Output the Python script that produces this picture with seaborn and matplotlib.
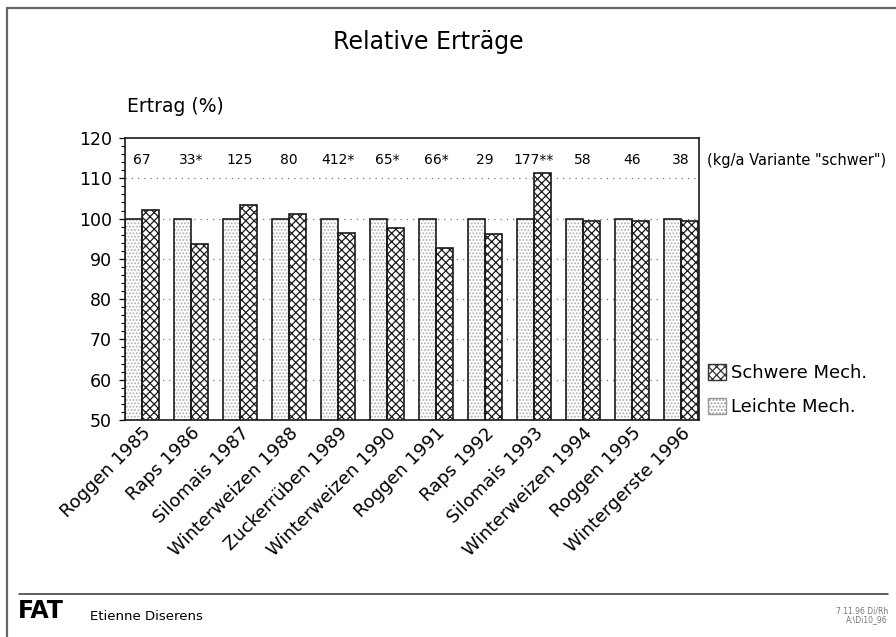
import matplotlib
matplotlib.use("Agg")
import matplotlib.pyplot as plt
from matplotlib.lines import Line2D
from matplotlib.patches import Patch, Rectangle
from matplotlib.ticker import MultipleLocator
import pandas as pd
import seaborn as sns

# Relative yields per crop and year (light mechanisation = 100 %)
kulturen = ["Roggen 1985", "Raps 1986", "Silomais 1987", "Winterweizen 1988",
            "Zuckerrüben 1989", "Winterweizen 1990", "Roggen 1991", "Raps 1992",
            "Silomais 1993", "Winterweizen 1994", "Roggen 1995", "Wintergerste 1996"]
leichte = [100, 100, 100, 100, 100, 100, 100, 100, 100, 100, 100, 100]
schwere = [102.2, 93.6, 103.3, 101.2, 96.4, 97.7, 92.6, 96.2, 111.2, 99.3, 99.5, 99.3]
# absolute yield of the heavy variant (kg/a)
kg_schwer = ["67", "33*", "125", "80", "412*", "65*", "66*", "29", "177**", "58", "46", "38"]
y_ticks = [50, 60, 70, 80, 90, 100, 110, 120]

df = pd.DataFrame({
    "Kultur": kulturen * 2,
    "Ertrag": leichte + schwere,
    "Variante": ["Leichte Mech."] * len(kulturen) + ["Schwere Mech."] * len(kulturen),
})

sns.set_style("ticks")
plt.rcParams["font.family"] = ["DejaVu Sans"]
plt.rcParams["text.color"] = "black"
plt.rcParams["hatch.linewidth"] = 0.9

W, H = 896, 637
fig = plt.figure(figsize=(W / 100, H / 100), dpi=100)
fig.patch.set_facecolor("white")
ax = fig.add_axes([125 / W, 1 - 420 / H, (699 - 125) / W, (420 - 138) / H])

sns.barplot(data=df, x="Kultur", y="Ertrag", hue="Variante",
            hue_order=["Leichte Mech.", "Schwere Mech."],
            palette=["white", "white"], saturation=1, width=0.7,
            legend=False, ax=ax, errorbar=None)

# light variant: fine grey dots with a dark outline
for p in ax.containers[0]:
    p.set_hatch(".....")
    p.set_edgecolor("#b0b0b0")
    p.set_linewidth(0)
    ax.add_patch(Rectangle((p.get_x(), p.get_y()), p.get_width(), p.get_height(),
                           fill=False, edgecolor="#1a1a1a", linewidth=1.2, zorder=3))
# heavy variant: dense dark cross-hatching
for p in ax.containers[1]:
    p.set_hatch("xxxx")
    p.set_edgecolor("#1a1a1a")
    p.set_linewidth(1.2)

ax.set_ylim(50, 120)
ax.set_xlim(-0.35, 11.37)
ax.set_yticks(y_ticks)
ax.yaxis.set_minor_locator(MultipleLocator(2))
ax.tick_params(axis="y", which="major", length=4.5, width=0.9, labelsize=12.5, pad=5,
               colors="black")
ax.tick_params(axis="y", which="minor", length=3, width=0.8, colors="black")
ax.tick_params(axis="x", length=0, pad=3, colors="black")
ax.set_xticks(range(len(kulturen)))
ax.set_xticklabels(kulturen, rotation=45, ha="right", rotation_mode="anchor", fontsize=13)
ax.set_xlabel("")
ax.set_ylabel("")
for s in ax.spines.values():
    s.set_visible(True)
    s.set_linewidth(1.2)
    s.set_color("#1a1a1a")

# dotted reference lines
for yv in y_ticks[1:-1]:
    ax.axhline(yv, color="#777777", linestyle=(0, (1, 4)), linewidth=0.9, zorder=0.5)

# kg/a figures above each group
for i, lab in enumerate(kg_schwer):
    ax.text(i, 114.5, lab, ha="center", va="center", fontsize=10, color="black")
fig.text(707 / W, 1 - 160 / H, '(kg/a Variante "schwer")', ha="left", va="center",
         fontsize=10.5, color="black")

# titles
fig.text(428 / W, 1 - 42 / H, "Relative Erträge", ha="center", va="center", fontsize=17,
         color="black")
fig.text(127 / W, 1 - 107 / H, "Ertrag (%)", ha="left", va="center", fontsize=13.5,
         color="black")

# legend
handles = [Patch(facecolor="white", edgecolor="#333333", hatch="xxxx", linewidth=1),
           Patch(facecolor="white", edgecolor="#999999", hatch=".....", linewidth=1)]
leg = fig.legend(handles, ["Schwere Mech.", "Leichte Mech."], loc="upper left",
                 bbox_to_anchor=(708 / W, 1 - 364 / H), frameon=False, fontsize=13,
                 handlelength=1.0, handleheight=1.0, handletextpad=0.25,
                 labelspacing=0.85, borderaxespad=0, borderpad=0)
for t in leg.get_texts():
    t.set_color("black")

# page frame and footer
fig.add_artist(Line2D([7 / W, 1], [1 - 8 / H, 1 - 8 / H], color="#666666", lw=1.6))
fig.add_artist(Line2D([7 / W, 7 / W], [0, 1 - 8 / H], color="#666666", lw=1.6))
fig.add_artist(Line2D([19 / W, 888 / W], [1 - 594 / H, 1 - 594 / H], color="#333333", lw=1.1))
fig.text(18 / W, 1 - 611 / H, "FAT", ha="left", va="center", fontsize=17,
         fontweight="bold", color="black")
fig.text(90 / W, 1 - 617 / H, "Etienne Diserens", ha="left", va="center", fontsize=9.5,
         color="black")
fig.text(888 / W, 1 - 611 / H, "7.11.96 Di/Rh", ha="right", va="center", fontsize=5.5,
         color="#777777")
fig.text(888 / W, 1 - 620 / H, "A:\\Di10_96", ha="right", va="center", fontsize=5.5,
         color="#777777")

fig.savefig("out.png", dpi=100, facecolor="white")
